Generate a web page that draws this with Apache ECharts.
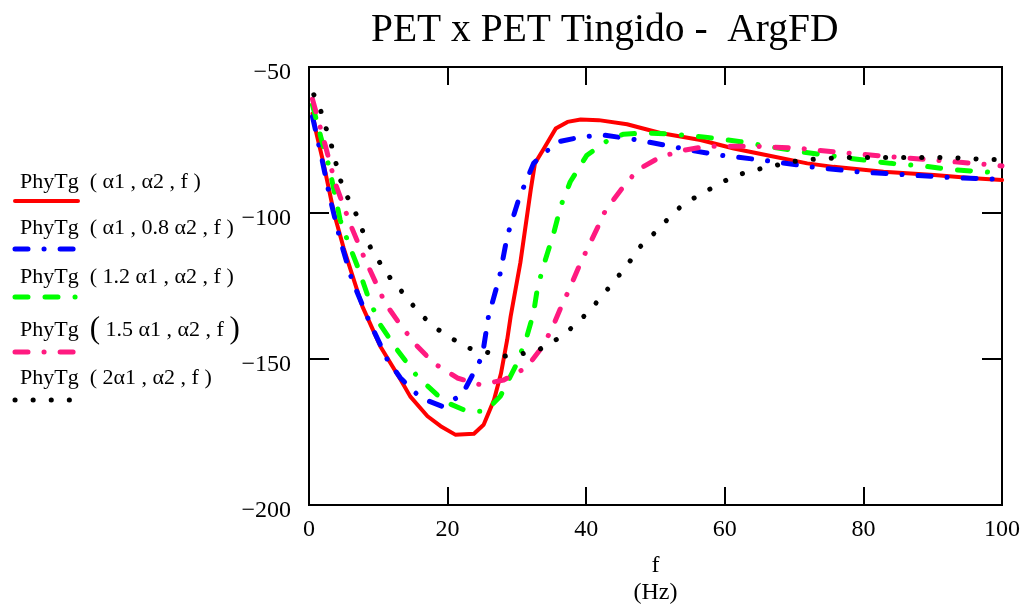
<!DOCTYPE html>
<html>
<head>
<meta charset="utf-8">
<script src="https://cdn.jsdelivr.net/npm/echarts@6/dist/echarts.min.js"></script>
<style>
  html, body { margin: 0; padding: 0; background: #fff; }
  #chart { width: 1027px; height: 608px; }
</style>
</head>
<body>
<div id="chart"></div>
<script>
// ---- data ----
const titleText = 'PET x PET Tingido -  ArgFD';
const seriesNames = [
  'PhyTg  ( α1 , α2 , f )',
  'PhyTg  ( α1 , 0.8 α2 , f )',
  'PhyTg  ( 1.2 α1 , α2 , f )',
  'PhyTg  ( 1.5 α1 , α2 , f )',
  'PhyTg  ( 2α1 , α2 , f )'
];
const seriesColors = ['#ff0000', '#0000ff', '#00ff00', '#ff1a80', '#000000'];

const redF = [0.5,1,2,3.6,5,7.7,10.3,13.2,14.6,17.1,19,21.1,23.8,25.2,26.7,27.7,28.6,29.1,30.5,32,32.6,33.9,35.6,37.3,39.2,41.8,45.9,47.8,50.7,56.5,61.3,66.1,71.9,75.7,82.9,90.2,95.9,100];
const redV = [-66,-72,-82,-100,-112,-132,-145.7,-157,-162.8,-169.6,-173,-175.9,-175.6,-172.5,-164,-155,-143.4,-135.4,-117,-92,-83,-77.9,-71.1,-68.8,-68,-68.2,-69.6,-70.8,-72.6,-75,-77.9,-80.2,-83,-84.2,-85.9,-87,-88.1,-88.7];

const blueF = [0.5,1.9,3.1,4.5,6.2,8.6,11.3,13.2,16.1,19.2,22.1,23.5,25,25.9,27.5,28.6,30.3,32.4,33.9,36,39.4,42.5,46.9,52.6,55.5,59.4,66.1,72.4,79.1,85.4,92.1,100];
const blueV = [-67,-81.9,-95.6,-109.2,-122.9,-136.6,-150.2,-156.5,-163.3,-166.2,-162.2,-155.9,-149.1,-135.4,-121.8,-108,-95,-83,-79.6,-75.6,-73.9,-73.3,-74.8,-77.3,-78.7,-80.2,-82.1,-84.2,-85.9,-86.8,-87.8,-88.5];

const greenF = [0.5,1.7,2.9,3.6,4.5,5.7,7.2,8.6,10.3,12.7,15.6,19.5,22.8,25.5,27.6,29.8,31.3,32.4,33,34.1,35.3,36.3,37.7,40.1,43.5,45.4,48.8,52.6,57.5,62.3,66.1,70.9,79.1,83.9,88.7,92.5,97.4,100];
const greenV = [-63,-73.9,-84.2,-92.1,-102.4,-110.4,-119.5,-129.2,-138.3,-146.8,-155.9,-164.5,-167.9,-167.9,-162.8,-152.5,-143.4,-134.3,-125.2,-116.1,-107,-97.8,-89.3,-80.2,-74.5,-73,-72.6,-73,-74.1,-75.6,-77.1,-79,-81.6,-83,-83.9,-85.1,-85.9,-86.4];

const pinkF = [0.5,2.4,3.8,6,7.9,11,13,15.4,18,21.4,24.7,28.1,31.4,33.7,35.1,36.3,37.6,39.2,41.6,42.8,45,47.4,50.7,54.1,57.5,64.2,70.9,77.2,84.4,90.2,97.4,100];
const pinkV = [-61,-77.3,-89.9,-104.1,-114.9,-130.9,-137.7,-145.1,-151.4,-156.5,-158.8,-157.2,-152.9,-145.7,-139.4,-132.6,-125.9,-117,-105.2,-99,-92.1,-85.3,-80.8,-78.5,-77.1,-77.1,-77.9,-79.4,-80.8,-81.9,-83.3,-83.9];

const blackF = [0.7,1.7,2.4,3.1,3.7,4.2,4.9,6,7.1,7.9,9,10.4,11.9,13.8,15.6,17.8,20.3,22.9,25.5,28,30.6,33.2,35.8,38.3,40.5,42.4,44.2,46,47.4,49.7,51.9,54.1,56.6,59.2,61.8,64.3,67,69.5,72.1,77.2,82.2,87.5,92.5,97.8,100];
const blackV = [-59.5,-65,-70.5,-75.6,-81,-86.1,-91.4,-96.7,-101.8,-107.2,-112.4,-117.7,-122.9,-128,-133.4,-138.6,-142.5,-146.2,-147.6,-149.1,-148.3,-146.8,-143.2,-138.6,-133.4,-128.1,-122.9,-117.7,-112.4,-107.2,-101.8,-96.7,-93.6,-89.9,-87,-85.3,-83.9,-82.5,-81.7,-81,-81,-81,-81,-81.7,-81.7];

const xMin = 0, xMax = 100, xStep = 20;
const yMin = -200, yMax = -50, yStep = 50;

// ---- styles ----
const FONT = '"Liberation Serif", "Times New Roman", serif';
const dashes = [
  null,
  [13, 16, 0.1, 16],
  [13, 17, 13, 17, 0.1, 17],
  [13, 16, 0.1, 16],
  [0.1, 18]
];
const widths = [4, 5, 5, 5, 5];

function zip(a, b) { return a.map((v, i) => [v, b[i]]); }
const allData = [zip(redF, redV), zip(blueF, blueV), zip(greenF, greenV), zip(pinkF, pinkV), zip(blackF, blackV)];

const series = allData.map((d, i) => ({
  name: seriesNames[i],
  type: 'line',
  data: d,
  showSymbol: false,
  symbol: 'none',
  smooth: false,
  lineStyle: {
    color: seriesColors[i],
    width: widths[i],
    type: dashes[i] ? dashes[i] : 'solid',
    cap: 'round',
    join: 'round'
  },
  z: 2 + i
}));

// ---- legend drawn as text above a sample line ----
const legendTextY = [182, 228, 277, 330, 378];
const legendLineY = [201, 249, 297, 352, 400];
const graphic = [];
seriesNames.forEach((name, i) => {
  let txt = name, rich;
  if (i === 3) {
    txt = 'PhyTg  {p|(} 1.5 α1 , α2 , f {p|)}';
    rich = { p: { fontSize: 31, fontFamily: FONT, fill: '#000' } };
  }
  graphic.push({
    type: 'text', x: 20, y: legendTextY[i], z: 10,
    style: {
      text: txt, rich: rich,
      fontSize: 22, fontFamily: FONT, fill: '#000',
      textAlign: 'left', textVerticalAlign: 'middle', verticalAlign: 'middle'
    }
  });
  graphic.push({
    type: 'line', z: 10,
    shape: { x1: 15, y1: legendLineY[i], x2: 78, y2: legendLineY[i] },
    style: {
      stroke: seriesColors[i], lineWidth: widths[i],
      lineDash: dashes[i] || null, lineCap: 'round'
    }
  });
});

const minus = v => '{a|' + (v < 0 ? '\u2212' + Math.abs(v) : String(v)) + '}';

const option = {
  backgroundColor: '#fff',
  animation: false,
  title: {
    text: titleText,
    left: 366, top: 6,
    textStyle: { fontFamily: FONT, fontSize: 39.5, fontWeight: 'normal', color: '#000' }
  },
  grid: {
    left: 309, right: 25, top: 67, bottom: 103,
    outerBoundsMode: 'none', containLabel: false,
    show: true, borderColor: '#000', borderWidth: 2, backgroundColor: 'transparent'
  },
  xAxis: [{
    type: 'value', min: xMin, max: xMax, interval: xStep, position: 'bottom',
    axisLine: { show: false, onZero: false },
    axisTick: { show: true, inside: true, length: 18, lineStyle: { color: '#000', width: 2 } },
    axisLabel: { fontFamily: FONT, fontSize: 24, color: '#000', margin: 13 },
    splitLine: { show: false },
    name: 'f\n(Hz)', nameLocation: 'middle', nameGap: 47,
    nameTextStyle: { fontFamily: FONT, fontSize: 24, color: '#000', lineHeight: 27 }
  }, {
    type: 'value', min: xMin, max: xMax, interval: xStep, position: 'top',
    axisLine: { show: false, onZero: false },
    axisTick: { show: true, inside: true, length: 18, lineStyle: { color: '#000', width: 2 } },
    axisLabel: { show: false }, splitLine: { show: false }
  }],
  yAxis: [{
    type: 'value', min: yMin, max: yMax, interval: yStep, position: 'left',
    axisLine: { show: false, onZero: false },
    axisTick: { show: true, inside: true, length: 20, lineStyle: { color: '#000', width: 2 } },
    axisLabel: {
      color: '#000', margin: 18, formatter: minus,
      rich: { a: { fontFamily: FONT, fontSize: 24, color: '#000', padding: [12, 0, 0, 0] } }
    },
    splitLine: { show: false }
  }, {
    type: 'value', min: yMin, max: yMax, interval: yStep, position: 'right',
    axisLine: { show: false, onZero: false },
    axisTick: { show: true, inside: true, length: 20, lineStyle: { color: '#000', width: 2 } },
    axisLabel: { show: false }, splitLine: { show: false }
  }],
  graphic: graphic,
  series: series
};

const chart = echarts.init(document.getElementById('chart'), null, { renderer: 'canvas' });
chart.setOption(option);
</script>
</body>
</html>
